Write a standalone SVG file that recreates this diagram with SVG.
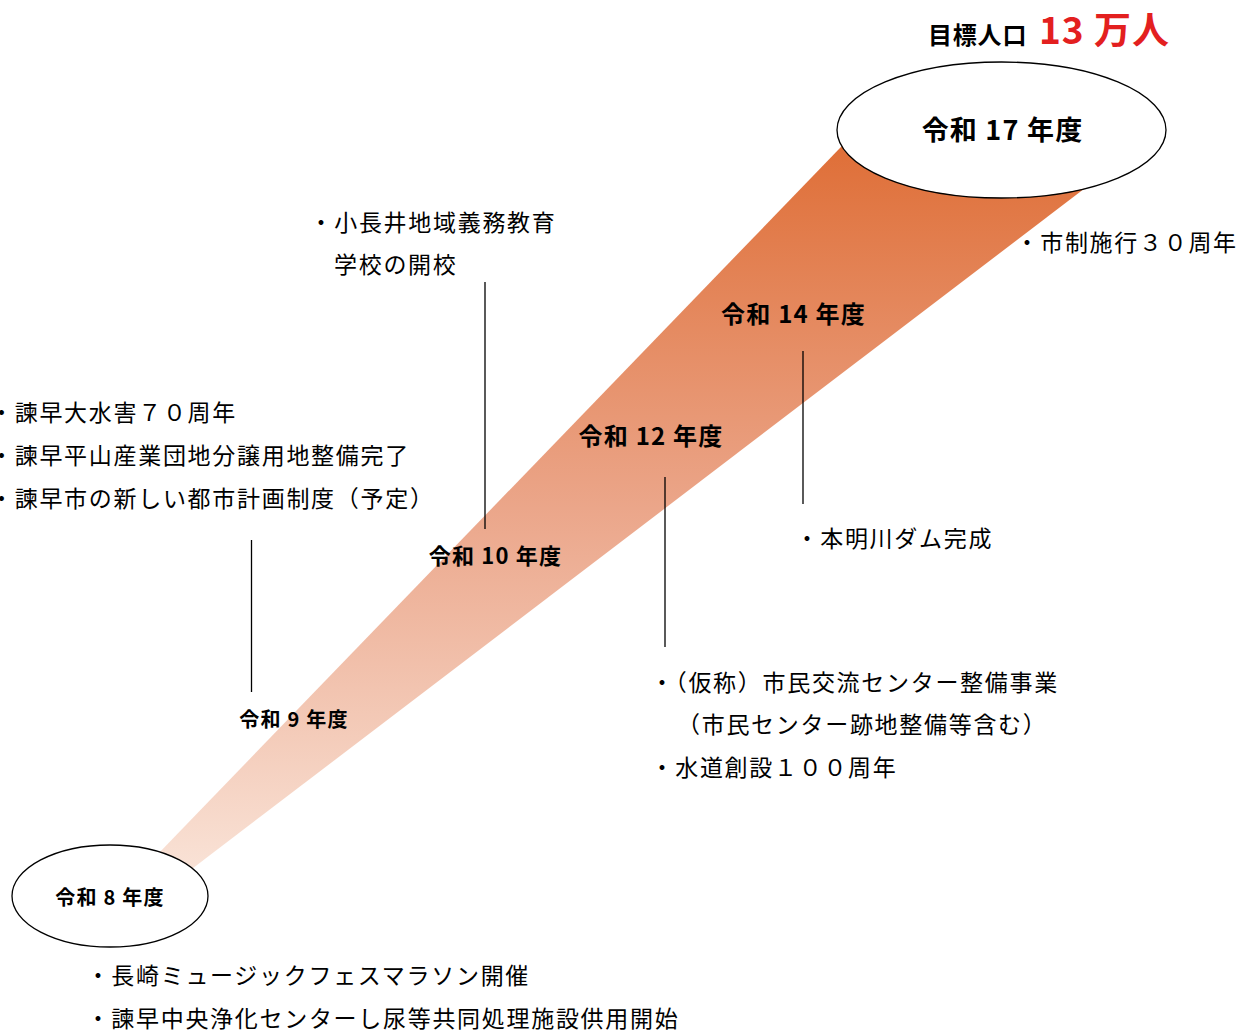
<svg xmlns="http://www.w3.org/2000/svg" width="1238" height="1030" viewBox="0 0 1238 1030">
<defs>
<linearGradient id="wedgeGrad" gradientUnits="userSpaceOnUse" x1="0" y1="148" x2="0" y2="870">
<stop offset="0" stop-color="#DF6F38"/>
<stop offset="0.5" stop-color="#EBA68A"/>
<stop offset="1" stop-color="#F9E2D6"/>
</linearGradient>
<style>
.t{font-family:"Noto Sans CJK JP","Noto Sans",sans-serif;font-size:23px;letter-spacing:1.7px;fill:#000}
.yr{font-family:"Noto Sans CJK JP","Noto Sans",sans-serif;font-weight:700;fill:#000;text-anchor:middle;letter-spacing:1.2px}
.ell{fill:#fff;stroke:#000;stroke-width:1.3}
.ln{stroke:#000;stroke-width:1.3;fill:none}
</style>
</defs>
<rect width="1238" height="1030" fill="#fff"/>
<polygon id="wedge" points="847.7,140 1095.7,180 177.4,880 142.5,870" fill="url(#wedgeGrad)"/>
<g id="connectors">
<line class="ln" x1="485" y1="282" x2="485" y2="529"/>
<line class="ln" x1="665" y1="477" x2="665" y2="647"/>
<line class="ln" x1="803" y1="351" x2="803" y2="504"/>
<line class="ln" x1="251.5" y1="540" x2="251.5" y2="692"/>
</g>
<g id="target">
<text x="928" y="44" font-family="Noto Sans CJK JP,sans-serif" font-weight="700" font-size="24" letter-spacing="0.8" fill="#000">目標人口</text>
<text x="1039" y="44" font-family="Noto Sans CJK JP,sans-serif" font-weight="700" font-size="37" letter-spacing="1" fill="#E3201F">13 万人</text>
</g>
<g id="node-r17">
<ellipse class="ell" cx="1001.5" cy="130" rx="164.5" ry="68"/>
<text class="yr" x="1002.5" y="140" font-size="27" letter-spacing="1.6">令和 17 年度</text>
</g>
<g id="node-r8">
<ellipse class="ell" cx="110" cy="896" rx="98" ry="51"/>
<text class="yr" x="110" y="905" font-size="20">令和 8 年度</text>
</g>
<g id="node-r9"><text class="yr" x="294" y="727" font-size="20">令和 9 年度</text></g>
<g id="node-r10"><text class="yr" x="495.5" y="564" font-size="22">令和 10 年度</text></g>
<g id="node-r12"><text class="yr" x="651" y="445" font-size="24">令和 12 年度</text></g>
<g id="node-r14"><text class="yr" x="793.5" y="323" font-size="24">令和 14 年度</text></g>
<g id="notes-r17"><text class="t" x="1015.5" y="251">・市制施行３０周年</text></g>
<g id="notes-r14"><text class="t" x="795.5" y="547">・本明川ダム完成</text></g>
<g id="notes-r12">
<text class="t" x="650.5" y="691">・（仮称）市民交流センター整備事業</text>
<text class="t" x="677" y="733">（市民センター跡地整備等含む）</text>
<text class="t" x="650.5" y="776">・水道創設１００周年</text>
</g>
<g id="notes-r10">
<text class="t" x="309.5" y="231">・小長井地域義務教育</text>
<text class="t" x="334" y="273">学校の開校</text>
</g>
<g id="notes-r9">
<text class="t" x="-10" y="421">・諫早大水害７０周年</text>
<text class="t" x="-10" y="464">・諫早平山産業団地分譲用地整備完了</text>
<text class="t" x="-10" y="507">・諫早市の新しい都市計画制度（予定）</text>
</g>
<g id="notes-r8">
<text class="t" x="86.6" y="984">・長崎ミュージックフェスマラソン開催</text>
<text class="t" x="86.6" y="1027">・諫早中央浄化センターし尿等共同処理施設供用開始</text>
</g>
</svg>
